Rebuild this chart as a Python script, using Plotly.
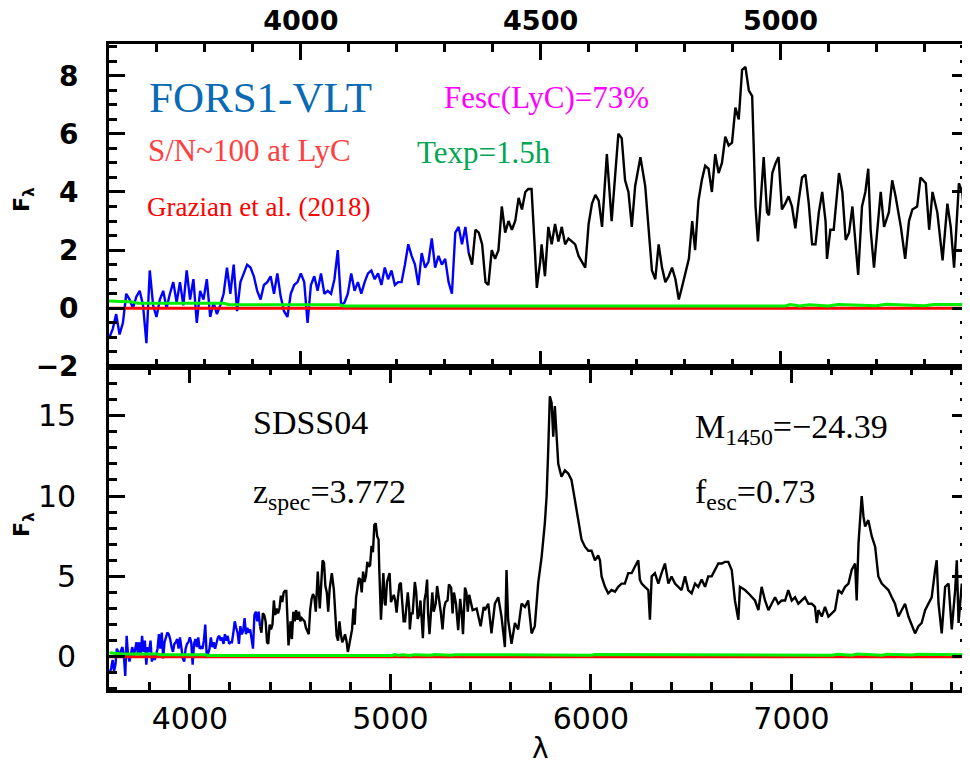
import plotly.graph_objects as go

# ---------------- data ----------------
# uniform part (observed wavelength, Angstrom) read from the zoomed upper panel
wave_a = list(range(3601, 4386, 7))
flux_a = [-1.0, -0.7, -0.2, -0.9, -0.5, 0.5, 0.3, 0.0, 0.4, 0.6,
          0.1, -1.2, 1.3, 0.1, -0.3, 0.3, 0.6, 0.0, 0.5, 0.9,
          0.2, 0.9, 0.1, 1.3, 0.3, 1.0, -0.5, 0.6, 0.3, 1.0,
          -0.3, 0.2, -0.2, 0.1, 0.5, 1.4, 0.5, 1.5, -0.1, 0.9,
          1.2, 1.5, 1.4, 1.1, 0.6, 0.3, 0.8, 0.9, 1.1, 0.5,
          1.2, 0.4, -0.1, -0.3, 0.5, 0.8, 0.9, 1.2, 0.9, -0.5,
          0.8, 1.1, 0.6, 1.2, 0.5, 0.6, 0.5, 1.0, 2.0, 0.1,
          0.2, 0.5, 1.2, 0.6, 0.9, 0.5, 0.9, 1.2, 1.3, 1.0,
          1.2, 0.8, 1.4, 1.0, 1.3, 0.8, 0.9, 0.9, 1.5, 2.2,
          1.8, 1.5, 0.8, 1.9, 1.4, 1.6, 2.4, 1.4, 1.8, 1.5,
          1.7, 0.9, 0.5, 2.6, 2.8, 2.2, 2.8, 1.9, 1.5, 2.7,
          2.6, 2.2, 0.9]
blue_end = 4350  # LyC region (blue) ends here

wave_b = [4391, 4398, 4405, 4412, 4419, 4426, 4433, 4440, 4447, 4454,
          4461, 4468, 4474, 4481, 4488, 4492, 4499, 4502, 4509, 4516,
          4523, 4530, 4537, 4544, 4551, 4558, 4565, 4572, 4579, 4586,
          4593, 4600, 4607, 4614, 4621, 4628, 4638, 4648, 4662, 4669,
          4676, 4683, 4690, 4697, 4708, 4718, 4725, 4732, 4739, 4746,
          4753, 4760, 4767, 4774, 4781, 4788, 4795, 4802, 4809, 4816,
          4822, 4829, 4836, 4843, 4850, 4857, 4864, 4871, 4878, 4885,
          4892, 4899, 4906, 4913, 4920, 4927, 4934, 4941, 4944, 4948,
          4953, 4958, 4965, 4972, 4976, 4983, 4990, 4996, 5003, 5010,
          5017, 5024, 5031, 5038, 5045, 5052, 5059, 5066, 5073, 5080,
          5087, 5094, 5097, 5104, 5111, 5122, 5129, 5136, 5143, 5150,
          5157, 5162, 5170, 5177, 5183, 5188, 5195, 5202, 5209, 5216,
          5226, 5233, 5240, 5251, 5260, 5268, 5275, 5285, 5292, 5303,
          5310, 5317, 5327, 5338, 5348, 5355, 5362, 5372, 5379, 5386,
          5393, 5410, 5430, 5450, 5465]
flux_b = [0.8, 2.0, 1.7, 2.0, 3.5, 2.6, 3.0, 2.7, 3.0, 3.8,
          3.4, 4.0, 4.1, 4.1, 2.0, 0.7, 1.6, 2.2, 1.1, 2.8,
          2.2, 2.9, 2.3, 2.8, 2.2, 2.4, 2.3, 2.2, 1.8, 1.6,
          1.4, 2.9, 3.6, 3.9, 3.7, 2.8, 5.3, 3.0, 6.0, 5.85,
          4.4, 4.0, 2.8, 4.2, 5.2, 4.2, 2.7, 1.3, 1.0, 2.2,
          1.4, 0.9, 1.1, 1.4, 1.0, 0.3, 0.75, 1.2, 1.7, 3.0,
          2.0, 3.7, 4.4, 4.9, 4.8, 4.0, 5.3, 4.65, 5.0, 5.9,
          5.6, 5.7, 6.9, 6.5, 8.2, 8.3, 7.5, 7.3, 5.7, 3.5,
          2.3, 3.5, 5.2, 3.3, 3.2, 4.65, 5.0, 5.2, 3.4, 3.6,
          3.85, 3.5, 2.75, 3.7, 4.5, 4.6, 3.6, 2.2, 2.2, 3.3,
          4.0, 3.0, 1.7, 2.7, 2.7, 4.65, 4.0, 2.35, 2.6, 3.5,
          2.0, 1.15, 3.5, 4.0, 4.8, 2.7, 1.4, 2.6, 4.0, 2.8,
          3.3, 4.4, 3.85, 2.8, 1.7, 3.0, 3.4, 3.5, 4.5, 4.3,
          2.7, 4.0, 3.3, 1.65, 3.6, 2.8, 1.4, 4.3, 4.0, 2.8,
          3.85, 2.9, 3.0, 1.9, 3.1]

# red part
wave_c = [5471, 5488, 5504, 5521, 5538, 5554, 5571, 5579, 5587, 5604,
          5621, 5637, 5654, 5671, 5687, 5704, 5720, 5737, 5754, 5770,
          5779, 5787, 5795, 5804, 5812, 5820, 5829, 5837, 5853, 5870,
          5887, 5903, 5920, 5937, 5953, 5970, 5987, 6003, 6020, 6036,
          6045, 6053, 6070, 6086, 6103, 6120, 6136, 6153, 6169, 6186,
          6203, 6219, 6236, 6244, 6253, 6269, 6286, 6294, 6303, 6319,
          6336, 6352, 6369, 6386, 6402, 6419, 6436, 6452, 6469, 6485,
          6502, 6519, 6535, 6552, 6569, 6585, 6602, 6618, 6635, 6652,
          6668, 6685, 6702, 6718, 6735, 6743, 6768, 6785, 6801, 6818,
          6835, 6851, 6868, 6885, 6901, 6918, 6934, 6951, 6968, 6984,
          7001, 7018, 7034, 7051, 7067, 7084, 7101, 7117, 7126, 7134,
          7151, 7167, 7184, 7201, 7217, 7234, 7250, 7267, 7284, 7300,
          7317, 7325, 7334, 7350, 7359, 7367, 7383, 7400, 7417, 7433,
          7450, 7467, 7483, 7500, 7516, 7533, 7550, 7566, 7583, 7600,
          7616, 7633, 7649, 7666, 7683, 7699, 7716, 7724, 7733, 7749,
          7766, 7783, 7799, 7816, 7824, 7833, 7849, 7866, 7882]
flux_c = [2.9, 3.3, 1.45, 3.3, 3.7, 2.5, 0.6, 5.4, 2.3, 0.8,
          2.1, 1.7, 3.3, 3.1, 3.5, 1.45, 1.9, 4.6, 6.2, 8.3,
          10.0, 12.9, 16.2, 15.8, 13.7, 15.6, 13.5, 12.0, 11.2, 11.6,
          11.4, 11.0, 9.75, 8.5, 7.3, 6.85, 6.6, 6.6, 6.0, 6.3,
          6.0, 5.0, 4.35, 3.95, 4.15, 4.05, 4.35, 4.55, 4.55, 5.2,
          5.2, 5.6, 6.0, 4.8, 4.55, 4.35, 4.15, 2.3, 5.0, 5.2,
          4.55, 5.2, 5.8, 4.55, 5.0, 4.55, 4.35, 4.15, 5.0, 4.15,
          3.95, 4.55, 4.35, 4.8, 4.35, 5.0, 5.0, 5.4, 5.8, 5.8,
          5.9, 5.9, 5.4, 3.5, 2.3, 4.35, 4.15, 3.95, 3.7, 3.5,
          2.9, 4.35, 3.5, 2.9, 3.3, 3.7, 3.3, 3.5, 3.5, 4.15,
          3.5, 3.7, 3.3, 3.5, 3.7, 3.3, 3.3, 3.1, 2.1, 2.9,
          2.5, 3.1, 2.5, 2.7, 2.9, 4.15, 3.95, 4.35, 4.55, 5.4,
          5.8, 3.5, 7.05, 10.0, 8.7, 8.1, 8.5, 7.5, 6.85, 5.0,
          4.55, 4.35, 4.15, 3.7, 3.3, 2.5, 2.9, 3.3, 2.5, 1.9,
          1.45, 1.9, 2.1, 2.9, 3.3, 3.7, 5.4, 6.0, 3.3, 1.45,
          4.35, 4.55, 1.7, 4.15, 6.0, 2.1, 4.55, 2.9, 3.7]

# noise (green) and zero level (red)
noise_wave = [3600, 3650, 3660, 3840, 3850, 4080, 4090, 5010, 5020, 5040,
              5060, 5100, 5120, 5200, 5220, 5300, 5320, 6000, 6020, 7200,
              7230, 7300, 7330, 7450, 7480, 7600, 7630, 7880]
noise_flux = [0.25, 0.22, 0.17, 0.17, 0.12, 0.12, 0.08, 0.08, 0.13, 0.08,
              0.12, 0.08, 0.13, 0.09, 0.14, 0.09, 0.13, 0.1, 0.14, 0.1,
              0.16, 0.1, 0.17, 0.1, 0.16, 0.11, 0.16, 0.12]
zero_wave = [3590, 7890]
zero_flux = [0.0, 0.0]

# ---------------- build ----------------
wave_all = wave_a + wave_b + wave_c
flux_all = flux_a + flux_b + flux_c
blue_w = [w for w in wave_all if w <= blue_end]
blue_f = [f for w, f in zip(wave_all, flux_all) if w <= blue_end]
black_w = [w for w in wave_all if w >= blue_end]
black_f = [f for w, f in zip(wave_all, flux_all) if w >= blue_end]

fig = go.Figure()
for xa, ya in (("x", "y"), ("x2", "y2")):
    fig.add_trace(go.Scatter(x=blue_w, y=blue_f, mode="lines", xaxis=xa, yaxis=ya,
                             line=dict(color="#0000ff", width=2.4), showlegend=False))
    fig.add_trace(go.Scatter(x=black_w, y=black_f, mode="lines", xaxis=xa, yaxis=ya,
                             line=dict(color="#000000", width=2.4), showlegend=False))
    fig.add_trace(go.Scatter(x=zero_wave, y=zero_flux, mode="lines", xaxis=xa, yaxis=ya,
                             line=dict(color="#ff0000", width=3), showlegend=False))
    fig.add_trace(go.Scatter(x=noise_wave, y=noise_flux, mode="lines", xaxis=xa, yaxis=ya,
                             line=dict(color="#00ee00", width=3, shape="linear"), showlegend=False))

# the page body adds an 8px margin, so the figure is 8px smaller on each side
OFF = 8
L, R, T, B = 109 - OFF, 2, 44 - OFF, 77 - OFF
W, H = 970 - OFF, 767 - 2 * OFF
PW, PH = W - L - R, H - T - B


def px(x):
    return (x - OFF - L) / PW


def py(y):
    return (H - B - (y - OFF)) / PH


axis_common = dict(showline=True, linecolor="black", linewidth=2.6, mirror="allticks",
                   ticks="inside", tickcolor="black", tickwidth=2.5, showgrid=False,
                   zeroline=False, automargin=False)

fig.update_layout(
    width=W, height=H, margin=dict(l=L, r=R, t=T, b=B),
    paper_bgcolor="white", plot_bgcolor="white",
    xaxis=dict(domain=[0, 1], anchor="y", range=[3597, 7880], dtick=1000, tick0=4000,
               ticklen=16, minor=dict(ticks="inside", dtick=200, ticklen=8, tickwidth=2.5,
                                      tickcolor="black"),
               tickfont=dict(family="DejaVu Sans", size=30, color="black"),
               ticklabelstandoff=0, **axis_common),
    yaxis=dict(domain=[0, 0.5], anchor="x", range=[-2.07, 18.03], dtick=5, tick0=0,
               ticklen=16, minor=dict(ticks="inside", dtick=1, ticklen=8, tickwidth=2.5,
                                      tickcolor="black"),
               tickfont=dict(family="DejaVu Sans", size=30, color="black"),
               ticklabelstandoff=24, **axis_common),
    xaxis2=dict(domain=[0, 1], anchor="y2", side="top", range=[3600, 5391], dtick=500,
                tick0=4000, ticklen=16,
                minor=dict(ticks="inside", dtick=100, ticklen=8, tickwidth=2.5,
                           tickcolor="black"),
                tickfont=dict(family="DejaVu Sans", size=27, color="black", weight="bold"),
                ticklabelstandoff=0, **axis_common),
    yaxis2=dict(domain=[0.5, 1], anchor="x2", range=[-2.02, 9.09], dtick=2, tick0=0,
                ticklen=16, minor=dict(ticks="inside", dtick=0.5, ticklen=8, tickwidth=2.5,
                                       tickcolor="black"),
                tickfont=dict(family="DejaVu Sans", size=28, color="black", weight="bold"),
                tickformat="d", ticklabelstandoff=22, **axis_common),
)

serif = "Liberation Serif"
ann = [
    dict(text="FORS1-VLT", x=px(260), y=py(98), font=dict(family=serif, size=43, color="#0a6ab4")),
    dict(text="Fesc(LyC)=73%", x=px(546), y=py(98), font=dict(family=serif, size=31, color="#ff00ff")),
    dict(text="S/N~100 at LyC", x=px(249), y=py(150), font=dict(family=serif, size=31, color="#ff4040")),
    dict(text="Texp=1.5h", x=px(484), y=py(152), font=dict(family=serif, size=31, color="#00a651")),
    dict(text="Grazian et al. (2018)", x=px(258), y=py(207), font=dict(family=serif, size=27, color="#ff0000")),
    dict(text="SDSS04", x=px(251), y=py(422), xanchor="left",
         font=dict(family=serif, size=34, color="black")),
    dict(text="z<sub>spec</sub>=3.772", x=px(251), y=py(494), xanchor="left",
         font=dict(family=serif, size=34, color="black")),
    dict(text="M<sub>1450</sub>=\u221224.39", x=px(693), y=py(429), xanchor="left",
         font=dict(family=serif, size=34, color="black")),
    dict(text="f<sub>esc</sub>=0.73", x=px(693), y=py(494), xanchor="left",
         font=dict(family=serif, size=34, color="black")),
    dict(text="\u03bb", x=px(540), y=py(748), font=dict(family="DejaVu Sans", size=28, color="black")),
    dict(text="F<sub>\u03bb</sub>", x=px(23), y=py(200), textangle=-90,
         font=dict(family="DejaVu Sans", size=22, color="black", weight="bold")),
    dict(text="F<sub>\u03bb</sub>", x=px(23), y=py(525), textangle=-90,
         font=dict(family="DejaVu Sans", size=22, color="black", weight="bold")),
]
for a in ann:
    a.setdefault("xanchor", "center")
    a.update(xref="paper", yref="paper", yanchor="middle", showarrow=False)
fig.update_layout(annotations=ann)

fig.write_html("out.html")
